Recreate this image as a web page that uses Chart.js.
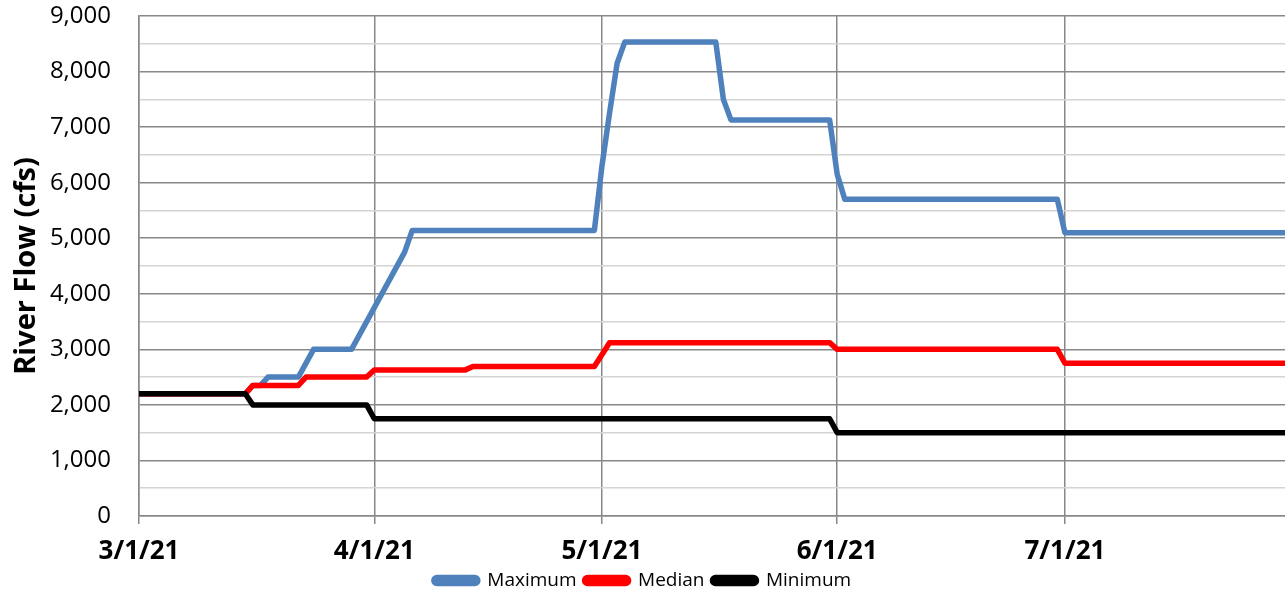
<!DOCTYPE html>
<html>
<head>
<meta charset="utf-8">
<script src="https://cdn.jsdelivr.net/npm/chart.js@4.4.1/dist/chart.umd.min.js"></script>
<style>
  html, body { margin: 0; padding: 0; background: #fff; }
  #wrap { width: 1285px; height: 594px; }
</style>
</head>
<body>
<div id="wrap"><canvas id="flowChart"></canvas></div>
<script>
// break points of the daily series (date, cfs)
const maxDates   = ['3/1','3/15','3/16','3/17','3/18','3/22','3/24','3/29','4/5','4/6','4/30','5/1','5/2','5/3','5/4','5/16','5/17','5/18','5/31','6/1','6/2','6/30','7/1','7/30'];
const maxValues  = [2200, 2200, 2350, 2350, 2500, 2500, 3000, 3000, 4750, 5140, 5140, 6300, 7250, 8150, 8530, 8530, 7500, 7130, 7130, 6150, 5700, 5700, 5100, 5100];

const medDates   = ['3/1','3/15','3/16','3/22','3/23','3/31','4/1','4/13','4/14','4/30','5/2','5/31','6/1','6/30','7/1','7/30'];
const medValues  = [2200, 2200, 2350, 2350, 2500, 2500, 2630, 2630, 2690, 2690, 3120, 3120, 3000, 3000, 2750, 2750];

const minDates   = ['3/1','3/15','3/16','3/31','4/1','5/31','6/1','7/30'];
const minValues  = [2200, 2200, 2000, 2000, 1750, 1750, 1500, 1500];

const tickLabels = ['3/1/21', '4/1/21', '5/1/21', '6/1/21', '7/1/21'];
const lastDay = '7/30';

// days since 3/1/21
function dayOf(s) {
    const p = s.split('/');
    const d = Date.UTC(2021, parseInt(p[0]) - 1, parseInt(p[1]));
    return Math.round((d - Date.UTC(2021, 2, 1)) / 86400000);
}
function toPoints(dates, values) {
    return dates.map((d, i) => ({ x: dayOf(d), y: values[i] }));
}
const tickDays = tickLabels.map(t => dayOf(t.slice(0, t.lastIndexOf('/'))));

const font = 'Open Sans';

new Chart(document.getElementById('flowChart'), {
    type: 'line',
    data: {
        datasets: [
            { label: 'Minimum', data: toPoints(minDates, minValues), borderColor: '#000000', backgroundColor: '#000000' },
            { label: 'Median',  data: toPoints(medDates, medValues), borderColor: '#FF0000', backgroundColor: '#FF0000' },
            { label: 'Maximum', data: toPoints(maxDates, maxValues), borderColor: '#4F81BD', backgroundColor: '#4F81BD' }
        ]
    },
    options: {
        responsive: true,
        maintainAspectRatio: false,
        animation: false,
        layout: { padding: { top: 0, left: 0, right: 0, bottom: -6 } },
        elements: {
            line: { borderWidth: 5.5, tension: 0, borderJoinStyle: 'round', borderCapStyle: 'butt' },
            point: { radius: 0 }
        },
        plugins: {
            tooltip: { enabled: false },
            legend: {
                position: 'bottom',
                reverse: true,
                labels: {
                    font: { family: font, size: 19 },
                    color: '#000',
                    boxWidth: 44,
                    boxHeight: 6,
                    useBorderRadius: true,
                    borderRadius: 3,
                    padding: 8
                }
            }
        },
        scales: {
            x: {
                type: 'linear',
                min: 0,
                max: dayOf(lastDay),
                afterBuildTicks: axis => { axis.ticks = tickDays.map(v => ({ value: v })); },
                afterFit: axis => { axis.height = 47; },
                ticks: {
                    callback: (v) => tickLabels[tickDays.indexOf(v)] || '',
                    font: { family: font, size: 26, weight: 'bold' },
                    color: '#000',
                    padding: 12,
                    maxRotation: 0
                },
                grid: { color: '#888888', lineWidth: 1.5, tickLength: 8 },
                border: { color: '#888888', width: 1.5 }
            },
            y: {
                min: 0,
                max: 9000,
                afterFit: axis => {
                    axis.width = 139;
                    axis.paddingTop = 16;
                    axis.paddingBottom = 0;
                },
                ticks: {
                    stepSize: 500,
                    autoSkip: false,
                    callback: v => v % 1000 === 0 ? v.toLocaleString('en-US') : '',
                    font: { family: font, size: 24 },
                    color: '#000',
                    padding: 28
                },
                grid: {
                    drawTicks: false,
                    lineWidth: 1.5,
                    color: c => c.tick && c.tick.value % 1000 === 0 ? '#888888' : '#D4D4D4'
                },
                border: { color: '#888888', width: 1.5 },
                title: {
                    display: true,
                    text: 'River Flow (cfs)',
                    font: { family: font, size: 29, weight: 'bold' },
                    color: '#000',
                    padding: { top: 9, bottom: 0 }
                }
            }
        }
    }
});
</script>
</body>
</html>
